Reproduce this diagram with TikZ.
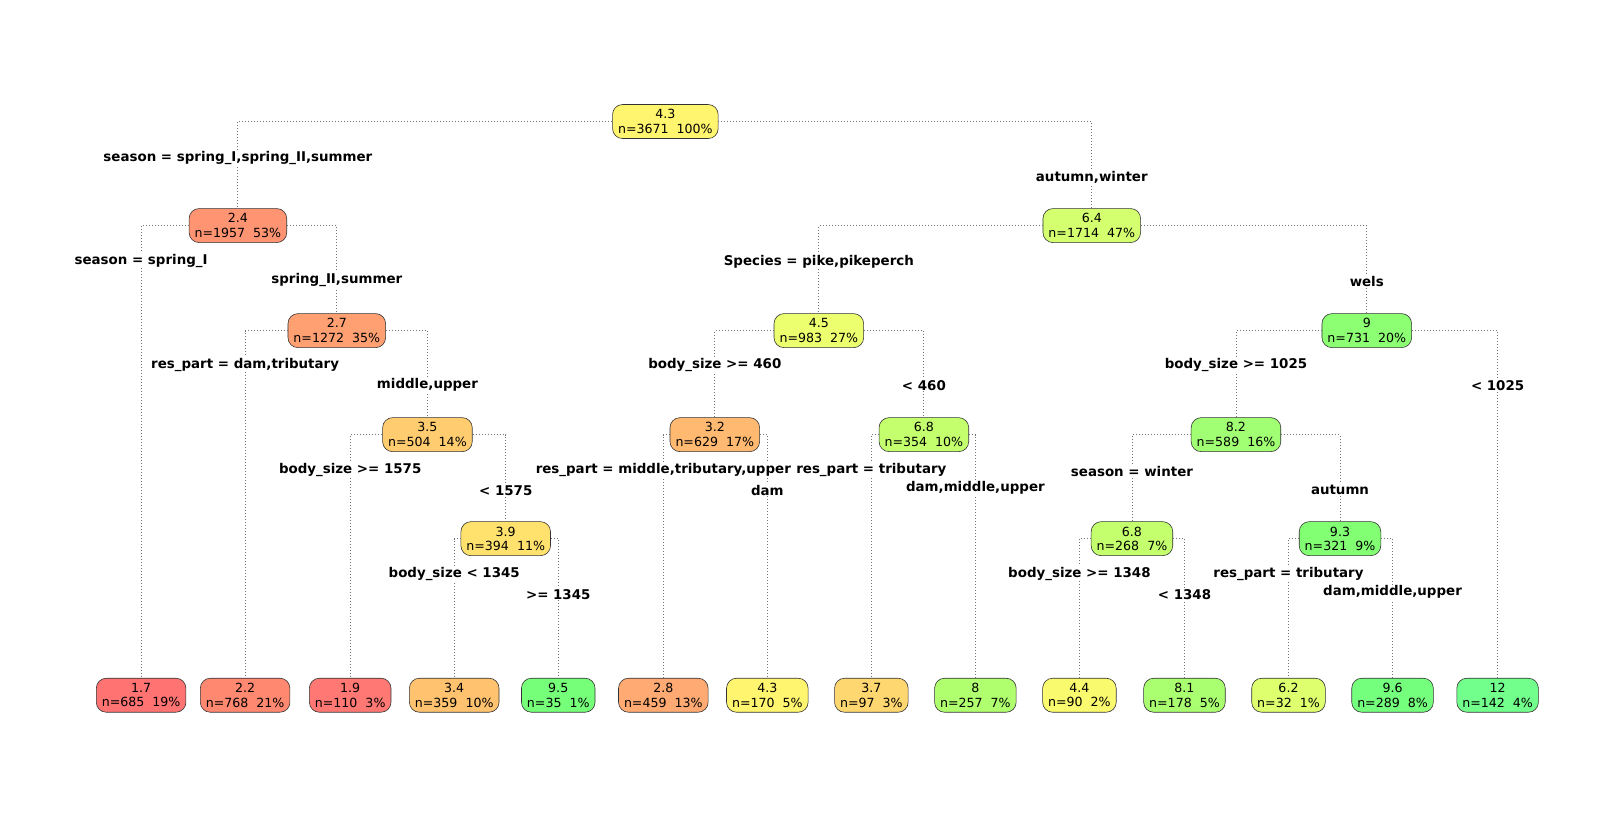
\documentclass[tikz,border=0pt]{standalone}
\usepackage{fontspec}
\setmainfont{DejaVu Sans}
\begin{document}
\begin{tikzpicture}[x=1.03pt,y=-1.03pt,
  box/.style={draw=black!80,line width=0.6pt,rounded corners=10pt,align=center,
    inner xsep=5.5pt,inner ysep=1pt,minimum height=34pt,
    font=\fontsize{12.6}{14.5}\selectfont},
  edge/.style={draw=black!55,line width=0.9pt,dash pattern=on 0.9pt off 2.1pt},
  lab/.style={fill=white,inner xsep=1pt,inner ysep=1pt,yshift=-2pt,font=\fontsize{13.4}{15}\selectfont\bfseries}
]
\useasboundingbox (0,0) rectangle (1568,794);
\definecolor{c17}{RGB}{255,115,115}
\definecolor{c19}{RGB}{255,120,115}
\definecolor{c22}{RGB}{255,136,112}
\definecolor{c24}{RGB}{255,148,115}
\definecolor{c27}{RGB}{255,160,115}
\definecolor{c28}{RGB}{255,170,115}
\definecolor{c32}{RGB}{255,185,112}
\definecolor{c34}{RGB}{255,195,112}
\definecolor{c35}{RGB}{255,205,112}
\definecolor{c37}{RGB}{255,215,112}
\definecolor{c39}{RGB}{255,226,110}
\definecolor{c43}{RGB}{255,245,110}
\definecolor{c44}{RGB}{250,250,110}
\definecolor{c45}{RGB}{236,255,110}
\definecolor{c62}{RGB}{222,255,110}
\definecolor{c64}{RGB}{212,255,110}
\definecolor{c68}{RGB}{196,255,110}
\definecolor{c80}{RGB}{176,255,110}
\definecolor{c81}{RGB}{170,255,112}
\definecolor{c82}{RGB}{160,255,115}
\definecolor{c90}{RGB}{140,255,115}
\definecolor{c93}{RGB}{130,255,115}
\definecolor{c95}{RGB}{118,255,120}
\definecolor{c96}{RGB}{116,255,125}
\definecolor{c120}{RGB}{115,255,140}

% internal nodes
\node[box,fill=c43] (n1) at (646,118) {4.3\\n=3671\ \ 100\%};
\node[box,fill=c24] (n2) at (231,219) {2.4\\n=1957\ \ 53\%};
\node[box,fill=c64] (n3) at (1060,219) {6.4\\n=1714\ \ 47\%};
\node[box,fill=c27] (n5) at (327,321) {2.7\\n=1272\ \ 35\%};
\node[box,fill=c45] (n6) at (795,321) {4.5\\n=983\ \ 27\%};
\node[box,fill=c90] (n7) at (1327,321) {9\\n=731\ \ 20\%};
\node[box,fill=c35] (n11) at (415,422) {3.5\\n=504\ \ 14\%};
\node[box,fill=c32] (n12) at (694,422) {3.2\\n=629\ \ 17\%};
\node[box,fill=c68] (n13) at (897,422) {6.8\\n=354\ \ 10\%};
\node[box,fill=c82] (n14) at (1200,422) {8.2\\n=589\ \ 16\%};
\node[box,fill=c39] (n23) at (491,523) {3.9\\n=394\ \ 11\%};
\node[box,fill=c68] (n28) at (1099,523) {6.8\\n=268\ \ 7\%};
\node[box,fill=c93] (n29) at (1301,523) {9.3\\n=321\ \ 9\%};
% leaves
\node[box,fill=c17] (l1) at (137,675) {1.7\\n=685\ \ 19\%};
\node[box,fill=c22] (l2) at (238,675) {2.2\\n=768\ \ 21\%};
\node[box,fill=c19] (l3) at (340,675) {1.9\\n=110\ \ 3\%};
\node[box,fill=c34] (l4) at (441,675) {3.4\\n=359\ \ 10\%};
\node[box,fill=c95] (l5) at (542,675) {9.5\\n=35\ \ 1\%};
\node[box,fill=c28] (l6) at (644,675) {2.8\\n=459\ \ 13\%};
\node[box,fill=c43] (l7) at (745,675) {4.3\\n=170\ \ 5\%};
\node[box,fill=c37] (l8) at (846,675) {3.7\\n=97\ \ 3\%};
\node[box,fill=c80] (l9) at (947,675) {8\\n=257\ \ 7\%};
\node[box,fill=c44] (l10) at (1048,675) {4.4\\n=90\ \ 2\%};
\node[box,fill=c81] (l11) at (1150,675) {8.1\\n=178\ \ 5\%};
\node[box,fill=c62] (l12) at (1251,675) {6.2\\n=32\ \ 1\%};
\node[box,fill=c96] (l13) at (1352,675) {9.6\\n=289\ \ 8\%};
\node[box,fill=c120] (l14) at (1454,675) {12\\n=142\ \ 4\%};

% edges
\draw[edge] (n1.west) -| (n2.north);
\draw[edge] (n1.east) -| (n3.north);
\draw[edge] (n2.west) -| (l1.north);
\draw[edge] (n2.east) -| (n5.north);
\draw[edge] (n3.west) -| (n6.north);
\draw[edge] (n3.east) -| (n7.north);
\draw[edge] (n5.west) -| (l2.north);
\draw[edge] (n5.east) -| (n11.north);
\draw[edge] (n6.west) -| (n12.north);
\draw[edge] (n6.east) -| (n13.north);
\draw[edge] (n7.west) -| (n14.north);
\draw[edge] (n7.east) -| (l14.north);
\draw[edge] (n11.west) -| (l3.north);
\draw[edge] (n11.east) -| (n23.north);
\draw[edge] (n12.west) -| (l6.north);
\draw[edge] (n12.east) -| (l7.north);
\draw[edge] (n13.west) -| (l8.north);
\draw[edge] (n13.east) -| (l9.north);
\draw[edge] (n14.west) -| (n28.north);
\draw[edge] (n14.east) -| (n29.north);
\draw[edge] (n23.west) -| (l4.north);
\draw[edge] (n23.east) -| (l5.north);
\draw[edge] (n28.west) -| (l10.north);
\draw[edge] (n28.east) -| (l11.north);
\draw[edge] (n29.west) -| (l12.north);
\draw[edge] (n29.east) -| (l13.north);

% split labels
\node[lab] (s1) at (231,151) {season = spring\_I,spring\_II,summer};
\node[lab] (s2) at (1060,170) {autumn,winter};
\node[lab] (s3) at (137,251) {season = spring\_I};
\node[lab] (s4) at (327,270) {spring\_II,summer};
\node[lab] (s5) at (795,252) {Species = pike,pikeperch};
\node[lab] (s6) at (1327,271) {wels};
\node[lab] (s7) at (238,352) {res\_part = dam,tributary};
\node[lab] (s8) at (415,372) {middle,upper};
\node[lab] (s9) at (694,352) {body\_size >= 460};
\node[lab] (s10) at (897,372) {< 460};
\node[lab] (s11) at (1200,352) {body\_size >= 1025};
\node[lab] (s12) at (1454,372) {< 1025};
\node[lab] (s13) at (340,454) {body\_size >= 1575};
\node[lab] (s14) at (491,474) {< 1575};
\node[lab] (s15) at (644,454) {res\_part = middle,tributary,upper};
\node[lab] (s16) at (745,474) {dam};
\node[lab] (s17) at (846,454) {res\_part = tributary};
\node[lab] (s18) at (947,472) {dam,middle,upper};
\node[lab] (s19) at (1099,456) {season = winter};
\node[lab] (s20) at (1301,474) {autumn};
\node[lab] (s21) at (441,555) {body\_size < 1345};
\node[lab] (s22) at (542,575) {>= 1345};
\node[lab] (s23) at (1048,555) {body\_size >= 1348};
\node[lab] (s24) at (1150,575) {< 1348};
\node[lab] (s25) at (1251,555) {res\_part = tributary};
\node[lab] (s26) at (1352,573) {dam,middle,upper};
\end{tikzpicture}
\end{document}
